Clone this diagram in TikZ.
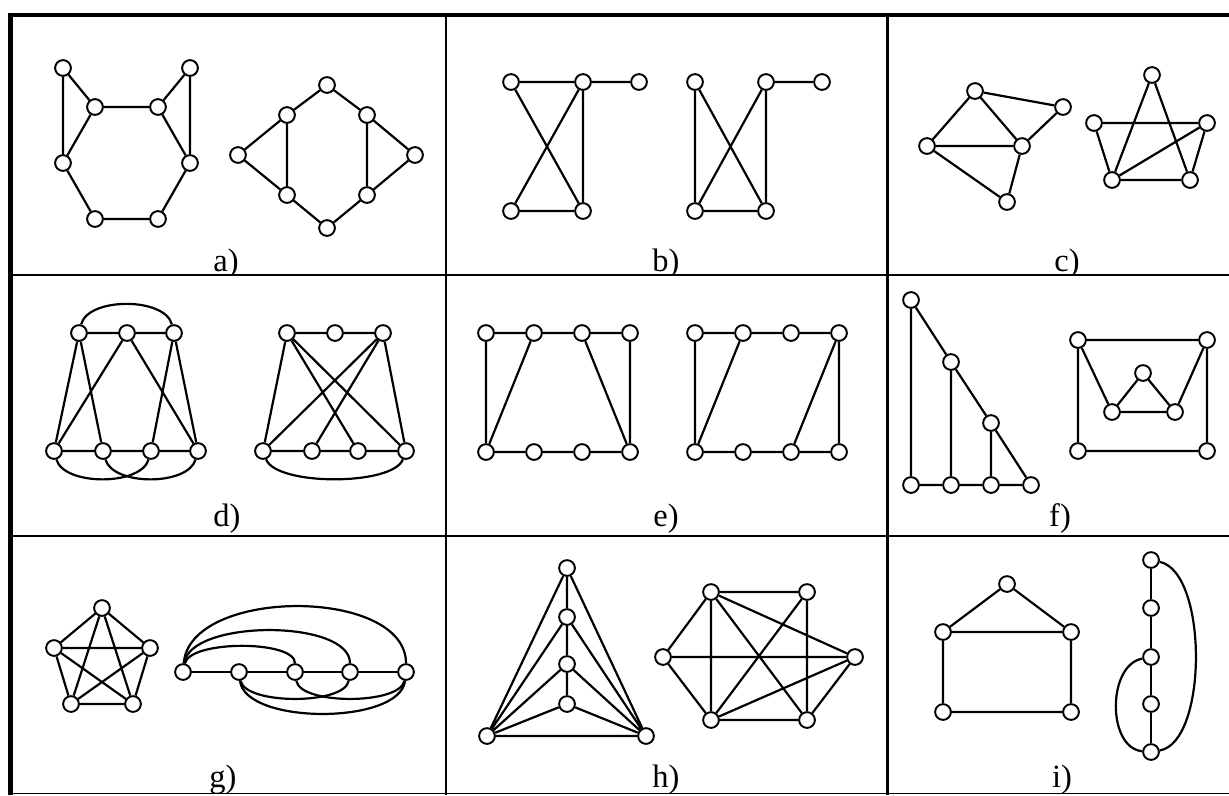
\documentclass[tikz,border=0pt]{standalone}
\usepackage{fontspec}
\setmainfont{Liberation Serif}
\begin{document}
\begin{tikzpicture}[x=0.02cm,y=-0.02cm,
  v/.style={circle,draw,fill=white,line width=1.1pt,inner sep=0pt,minimum size=0.315cm},
  ed/.style={line width=1.25pt},
  lab/.style={anchor=base,font=\fontsize{18.5}{20}\selectfont,inner sep=0pt},
  thickframe/.style={line width=2.7pt},
  grid/.style={line width=1.4pt},
  thinframe/.style={line width=0.9pt}]
\useasboundingbox (0,0) rectangle (1229,795);

% ---------- a) ----------
\node[v] (a1) at (63,68) {};
\node[v] (a2) at (190,68) {};
\node[v] (a3) at (95,107) {};
\node[v] (a4) at (158,107) {};
\node[v] (a5) at (63,163) {};
\node[v] (a6) at (190,163) {};
\node[v] (a7) at (95,219) {};
\node[v] (a8) at (158,219) {};
\draw[ed] (a1)--(a3) (a1)--(a5) (a3)--(a4) (a2)--(a4) (a2)--(a6) (a3)--(a5)
  (a4)--(a6) (a5)--(a7) (a7)--(a8) (a8)--(a6);
\node[v] (a9) at (327,85) {};
\node[v] (a10) at (287,115) {};
\node[v] (a11) at (367,115) {};
\node[v] (a12) at (238,155) {};
\node[v] (a13) at (415,155) {};
\node[v] (a14) at (287,195) {};
\node[v] (a15) at (367,195) {};
\node[v] (a16) at (327,228) {};
\draw[ed] (a9)--(a10) (a9)--(a11) (a10)--(a12) (a10)--(a14) (a12)--(a14) (a14)--(a16)
  (a16)--(a15) (a15)--(a11) (a15)--(a13) (a13)--(a11);

% ---------- b) ----------
\node[v] (b1) at (511,82) {};
\node[v] (b2) at (583,82) {};
\node[v] (b3) at (639,82) {};
\node[v] (b4) at (511,211) {};
\node[v] (b5) at (583,211) {};
\draw[ed] (b1)--(b2) (b2)--(b3) (b1)--(b5) (b2)--(b4) (b2)--(b5) (b4)--(b5);
\node[v] (b6) at (695,82) {};
\node[v] (b7) at (766,82) {};
\node[v] (b8) at (822,82) {};
\node[v] (b9) at (695,211) {};
\node[v] (b10) at (766,211) {};
\draw[ed] (b7)--(b8) (b6)--(b9) (b6)--(b10) (b7)--(b9) (b7)--(b10) (b9)--(b10);

% ---------- c) ----------
\node[v] (c1) at (975,91) {};
\node[v] (c2) at (1063,107) {};
\node[v] (c3) at (927,146) {};
\node[v] (c4) at (1022,146) {};
\node[v] (c5) at (1007,202) {};
\draw[ed] (c1)--(c3) (c1)--(c4) (c1)--(c2) (c3)--(c4) (c4)--(c2) (c3)--(c5) (c4)--(c5);
\node[v] (c6) at (1152,75) {};
\node[v] (c7) at (1094,123) {};
\node[v] (c8) at (1207,123) {};
\node[v] (c9) at (1112,180) {};
\node[v] (c10) at (1190,180) {};
\draw[ed] (c6)--(c9) (c6)--(c10) (c7)--(c8) (c7)--(c9) (c8)--(c9) (c8)--(c10) (c9)--(c10);

% ---------- d) ----------
\node[v] (d1) at (79,333) {};
\node[v] (d2) at (127,333) {};
\node[v] (d3) at (174,333) {};
\node[v] (d4) at (54,451) {};
\node[v] (d5) at (103,451) {};
\node[v] (d6) at (151,451) {};
\node[v] (d7) at (198,451) {};
\draw[ed] (d1)--(d2) (d2)--(d3) (d1)--(d4) (d1)--(d5) (d2)--(d4) (d2)--(d7)
  (d3)--(d6) (d3)--(d7) (d4)--(d5) (d5)--(d6) (d6)--(d7);
\draw[ed] (d1) .. controls (88,297) and (165,297) .. (d3);
\draw[ed] (d4) .. controls (64,486) and (141,486) .. (d6);
\draw[ed] (d5) .. controls (113,486) and (188,486) .. (d7);
\node[v] (d8) at (287,333) {};
\node[v] (d9) at (335,333) {};
\node[v] (d10) at (383,333) {};
\node[v] (d11) at (263,451) {};
\node[v] (d12) at (312,451) {};
\node[v] (d13) at (358,451) {};
\node[v] (d14) at (406,451) {};
\draw[ed] (d8)--(d9) (d9)--(d10) (d8)--(d11) (d8)--(d13) (d8)--(d14) (d10)--(d11)
  (d10)--(d12) (d10)--(d14) (d11)--(d12) (d12)--(d13) (d13)--(d14);
\draw[ed] (d11) .. controls (276,486) and (393,486) .. (d14);

% ---------- e) ----------
\node[v] (e1) at (486,333) {};
\node[v] (e2) at (534,333) {};
\node[v] (e3) at (582,333) {};
\node[v] (e4) at (630,333) {};
\node[v] (e5) at (486,452) {};
\node[v] (e6) at (534,452) {};
\node[v] (e7) at (582,452) {};
\node[v] (e8) at (630,452) {};
\draw[ed] (e1)--(e2) (e2)--(e3) (e3)--(e4) (e5)--(e6) (e6)--(e7) (e7)--(e8)
  (e1)--(e5) (e4)--(e8) (e2)--(e5) (e3)--(e8);
\node[v] (e9) at (695,333) {};
\node[v] (e10) at (743,333) {};
\node[v] (e11) at (791,333) {};
\node[v] (e12) at (839,333) {};
\node[v] (e13) at (695,452) {};
\node[v] (e14) at (743,452) {};
\node[v] (e15) at (791,452) {};
\node[v] (e16) at (839,452) {};
\draw[ed] (e9)--(e10) (e10)--(e11) (e11)--(e12) (e13)--(e14) (e14)--(e15) (e15)--(e16)
  (e9)--(e13) (e12)--(e16) (e10)--(e13) (e12)--(e15);

% ---------- f) ----------
\node[v] (f1) at (911,300) {};
\node[v] (f2) at (951,362) {};
\node[v] (f3) at (991,423) {};
\node[v] (f4) at (911,485) {};
\node[v] (f5) at (951,485) {};
\node[v] (f6) at (991,485) {};
\node[v] (f7) at (1031,485) {};
\draw[ed] (f1)--(f2) (f2)--(f3) (f3)--(f7) (f1)--(f4) (f2)--(f5) (f3)--(f6)
  (f4)--(f5) (f5)--(f6) (f6)--(f7);
\node[v] (f8) at (1078,340) {};
\node[v] (f9) at (1207,340) {};
\node[v] (f10) at (1078,451) {};
\node[v] (f11) at (1207,451) {};
\node[v] (f12) at (1143,373) {};
\node[v] (f13) at (1112,412) {};
\node[v] (f14) at (1175,412) {};
\draw[ed] (f8)--(f9) (f8)--(f10) (f9)--(f11) (f10)--(f11) (f8)--(f13) (f9)--(f14)
  (f13)--(f12) (f12)--(f14) (f13)--(f14);

% ---------- g) ----------
\node[v] (g1) at (102,608) {};
\node[v] (g2) at (54,648) {};
\node[v] (g3) at (150,648) {};
\node[v] (g4) at (71,704) {};
\node[v] (g5) at (133,704) {};
\draw[ed] (g1)--(g2) (g1)--(g3) (g1)--(g4) (g1)--(g5) (g2)--(g3) (g2)--(g4) (g2)--(g5)
  (g3)--(g4) (g3)--(g5) (g4)--(g5);
\node[v] (g6) at (183,672) {};
\node[v] (g7) at (239,672) {};
\node[v] (g8) at (295,672) {};
\node[v] (g9) at (350,672) {};
\node[v] (g10) at (406,672) {};
\draw[ed] (g6)--(g7) (g7)--(g8) (g8)--(g9) (g9)--(g10);
\draw[ed] (g6) .. controls (190,587) and (406,587) .. (g10);
\draw[ed] (g6) .. controls (190,619) and (350,619) .. (g9);
\draw[ed] (g6) .. controls (190,640) and (295,640) .. (g8);
\draw[ed] (g7) .. controls (245,705) and (345,705) .. (g9);
\draw[ed] (g8) .. controls (300,705) and (400,705) .. (g10);
\draw[ed] (g7) .. controls (245,725) and (400,725) .. (g10);

% ---------- h) ----------
\node[v] (h1) at (567,568) {};
\node[v] (h2) at (567,617) {};
\node[v] (h3) at (567,664) {};
\node[v] (h4) at (567,704) {};
\node[v] (h5) at (487,736) {};
\node[v] (h6) at (646,736) {};
\draw[ed] (h1)--(h2) (h2)--(h3) (h3)--(h4) (h1)--(h5) (h1)--(h6) (h2)--(h5) (h2)--(h6)
  (h3)--(h5) (h3)--(h6) (h4)--(h5) (h4)--(h6) (h5)--(h6);
\node[v] (h7) at (711,592) {};
\node[v] (h8) at (807,592) {};
\node[v] (h9) at (663,657) {};
\node[v] (h10) at (855,657) {};
\node[v] (h11) at (711,720) {};
\node[v] (h12) at (807,720) {};
\draw[ed] (h7)--(h8) (h7)--(h9) (h7)--(h11) (h7)--(h10) (h7)--(h12) (h8)--(h11)
  (h8)--(h12) (h9)--(h10) (h9)--(h11) (h11)--(h12) (h11)--(h10) (h10)--(h12);

% ---------- i) ----------
\node[v] (i1) at (1007,584) {};
\node[v] (i2) at (943,632) {};
\node[v] (i3) at (1071,632) {};
\node[v] (i4) at (943,712) {};
\node[v] (i5) at (1071,712) {};
\draw[ed] (i1)--(i2) (i1)--(i3) (i2)--(i3) (i2)--(i4) (i3)--(i5) (i4)--(i5);
\node[v] (i6) at (1151,560) {};
\node[v] (i7) at (1151,608) {};
\node[v] (i8) at (1151,657) {};
\node[v] (i9) at (1151,704) {};
\node[v] (i10) at (1151,752) {};
\draw[ed] (i6)--(i7) (i7)--(i8) (i8)--(i9) (i9)--(i10);
\draw[ed] (i6) .. controls (1208,572) and (1208,742) .. (i10);
\draw[ed] (i8) .. controls (1107,665) and (1107,748) .. (i10);

% ---------- labels ----------
\begin{scope}
\clip (0,15) rectangle (1229,275);
\node[lab] (la) at (226,271) {a)};
\node[lab] (lb) at (666,271) {b)};
\node[lab] (lc) at (1067,271) {c)};
\end{scope}
\node[lab] (ld) at (227,526) {d)};
\node[lab] (le) at (666,526) {e)};
\node[lab] (lf) at (1060,526) {f)};
\node[lab] (lg) at (223,787) {g)};
\node[lab] (lh) at (666,787) {h)};
\node[lab] (li) at (1062,787) {i)};

% ---------- frame ----------
\draw[grid] (446,15) -- (446,795);
\draw[grid] (887.5,15) -- (887.5,795);
\draw[grid] (10,275) -- (1229,275);
\draw[grid] (10,536) -- (1229,536);
\draw[thinframe] (10,793.5) -- (1229,793.5);
\draw[thickframe] (8,15) -- (1229,15);
\draw[line width=2.9pt] (10.5,13) -- (10.5,795);
\end{tikzpicture}
\end{document}
